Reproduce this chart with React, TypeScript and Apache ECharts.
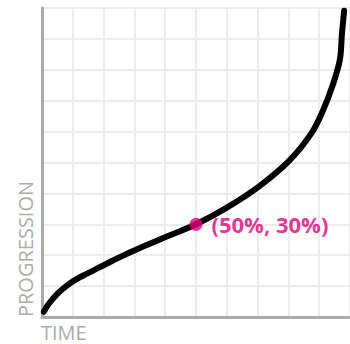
import React, { useEffect, useRef } from "react";
import * as echarts from "echarts";

const timePct = [0.6, 1.9, 5.2, 8.4, 11.6, 14.8, 18.1, 21.3, 24.5, 30.3, 39, 50, 60, 70.5, 80.3, 87.5, 91.3, 94.2, 96.7, 97.4, 98.1];
const progressionPct = [1.7, 3.9, 7.7, 10.4, 12.5, 14.1, 15.8, 17.4, 19, 21.7, 25.4, 30, 35.4, 42.3, 50.6, 59.5, 67, 74.5, 83.2, 91.8, 99.1];
const highlight = [50, 30];
const highlightLabel = "(50%, 30%)";
const xName = "TIME";
const yName = "PROGRESSION";

export default function App() {
  const ref = useRef<HTMLDivElement>(null);
  useEffect(() => {
    if (!ref.current) return;
    const chart = echarts.init(ref.current, null, { renderer: "svg" });
    const curve = timePct.map((t, i) => [t, progressionPct[i]]);
    const gray = "#ababab";
    const grid = "#ededed";
    chart.setOption({
      animation: false,
      grid: { left: 42, top: 8, width: 310, height: 309, containLabel: false },
      xAxis: {
        type: "value",
        min: 0,
        max: 100,
        interval: 10,
        axisLine: { show: true, onZero: false, lineStyle: { color: gray, width: 3 } },
        axisTick: { show: false },
        axisLabel: { show: false },
        splitLine: { show: true, lineStyle: { color: grid, width: 2 } },
      },
      yAxis: {
        type: "value",
        min: 0,
        max: 100,
        interval: 10,
        axisLine: { show: true, onZero: false, lineStyle: { color: gray, width: 3 } },
        axisTick: { show: false },
        axisLabel: { show: false },
        splitLine: { show: true, lineStyle: { color: grid, width: 2 } },
      },
      graphic: [
        {
          type: "text",
          x: 41,
          y: 332,
          style: {
            text: xName,
            fill: gray,
            font: '20px "Open Sans"',
            textAlign: "left",
            textVerticalAlign: "middle",
          },
        },
        {
          type: "text",
          x: 25,
          y: 317,
          rotation: Math.PI / 2,
          style: {
            text: yName,
            fill: gray,
            font: '20px "Open Sans"',
            textAlign: "left",
            textVerticalAlign: "middle",
          },
        },
      ],
      series: [
        {
          type: "line",
          data: curve,
          smooth: 0.35,
          showSymbol: false,
          clip: false,
          lineStyle: { color: "#000", width: 6, cap: "round", join: "round" },
          z: 2,
        },
        {
          type: "scatter",
          data: [highlight],
          symbolSize: 13,
          itemStyle: { color: "#e0007a" },
          z: 3,
          label: {
            show: true,
            position: "right",
            distance: 9,
            formatter: highlightLabel,
            color: "#e0007a",
            fontFamily: "Open Sans",
            fontWeight: "bold",
            fontSize: 22,
          },
        },
      ],
    });
    return () => chart.dispose();
  }, []);
  return (
    <div
      ref={ref}
      style={{ position: "fixed", left: 0, top: 0, width: 350, height: 344, background: "#fff" }}
    />
  );
}
